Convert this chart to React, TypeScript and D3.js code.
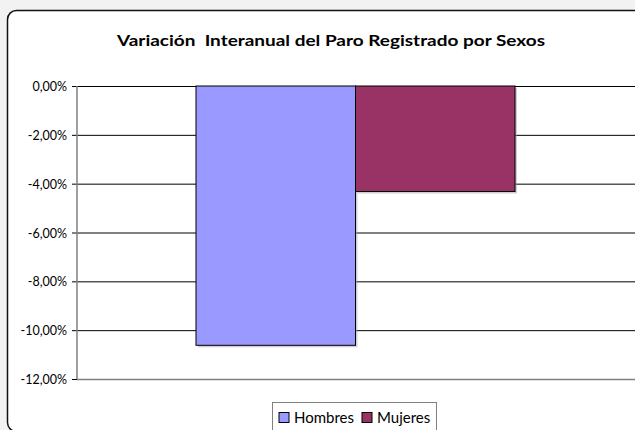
import { useEffect, useRef } from 'react'
import * as d3 from 'd3'

const W = 635
const H = 430
const MARGIN = { top: 86, right: 1, bottom: 51, left: 77 }

const TITLE = 'Variación  Interanual del Paro Registrado por Sexos'
const categories = ['']
const seriesNames = ['Hombres', 'Mujeres']
const seriesColors = ['#9999FF', '#993366']
const values = [-10.62, -4.32] // percent
const yTicks = [0, -2, -4, -6, -8, -10, -12]

const FONT = 'Lato, "Open Sans", sans-serif'

const fmt = (v: number) => v.toFixed(2).replace('.', ',') + '%'

export default function App() {
  const axesRef = useRef<SVGGElement>(null)
  const boundsWidth = W - MARGIN.left - MARGIN.right
  const boundsHeight = H - MARGIN.top - MARGIN.bottom

  const yScale = d3.scaleLinear().domain([-12, 0]).range([boundsHeight, 0])
  const xScale = d3.scaleBand().domain(categories).range([0, boundsWidth]).paddingInner(0).paddingOuter(0.373)
  const xInner = d3.scaleBand().domain(seriesNames).range([0, xScale.bandwidth()])

  useEffect(() => {
    const g = d3.select(axesRef.current)
    g.selectAll('*').remove()
    const axis = d3
      .axisLeft(yScale)
      .tickValues(yTicks)
      .tickSize(5)
      .tickPadding(5)
      .tickFormat((d) => fmt(d as number))
    const ag = g.append('g').call(axis)
    ag.select('.domain').remove()
    ag.selectAll('.tick line').attr('stroke', '#000')
    ag.selectAll('.tick text')
      .attr('font-family', FONT)
      .attr('font-size', 12.5)
      .attr('dy', '0.36em')
      .attr('fill', '#000')
    g.append('line')
      .attr('x1', 0)
      .attr('x2', 0)
      .attr('y1', 0)
      .attr('y2', boundsHeight)
      .attr('stroke', '#808080')
      .attr('stroke-width', 1.5)
  }, [])

  return (
    <div style={{ position: 'fixed', left: 0, top: 0 }}>
      <svg width={W} height={H} style={{ display: 'block' }}>
        <rect width={W} height={H} fill="#f2f2f2" />
        <rect x={7.5} y={10.5} width={W + 20} height={H - 10 + 1} rx={9} fill="#fff" stroke="#111" strokeWidth={1.5} />
        <text
          x={331}
          y={46}
          textAnchor="middle"
          textLength={428}
          lengthAdjust="spacingAndGlyphs"
          style={{ fontFamily: FONT, fontSize: '16px', fontWeight: 'bold', fill: '#000', whiteSpace: 'pre' }}
        >
          {TITLE}
        </text>
        <g transform={`translate(${MARGIN.left},${MARGIN.top})`}>
          {yTicks.map((t) => (
            <line
              key={t}
              x1={0}
              x2={boundsWidth + 5}
              y1={yScale(t) + 0.5}
              y2={yScale(t) + 0.5}
              stroke={t === -12 ? '#808080' : '#000'}
              strokeWidth={t === -12 ? 1.5 : 1}
            />
          ))}
          {categories.map((c) =>
            seriesNames.map((s, i) => (
              <g key={s}>
                <rect
                  x={(xScale(c) ?? 0) + (xInner(s) ?? 0) + 2}
                  y={yScale(0) + 2}
                  width={xInner.bandwidth()}
                  height={yScale(values[i]) - yScale(0)}
                  fill="#a0a0a0"
                  opacity={0.5}
                />
                <rect
                  x={(xScale(c) ?? 0) + (xInner(s) ?? 0)}
                  y={yScale(0)}
                  width={xInner.bandwidth()}
                  height={yScale(values[i]) - yScale(0)}
                  fill={seriesColors[i]}
                  stroke="#000"
                  strokeWidth={1}
                />
              </g>
            ))
          )}
        </g>
        <g ref={axesRef} transform={`translate(${MARGIN.left},${MARGIN.top})`} />
        <g transform="translate(272.5,402.5)">
          <rect width={164} height={28} fill="#fff" stroke="#808080" strokeWidth={1} />
          {seriesNames.map((s, i) => (
            <g key={s} transform={`translate(${i === 0 ? 6.5 : 89.5},0)`}>
              <rect x={0} y={10} width={10} height={10} fill={seriesColors[i]} stroke="#000" strokeWidth={1} />
              <text x={15} y={20.5} style={{ fontFamily: FONT, fontSize: '15px', fill: '#000' }}>
                {s}
              </text>
            </g>
          ))}
        </g>
      </svg>
    </div>
  )
}
